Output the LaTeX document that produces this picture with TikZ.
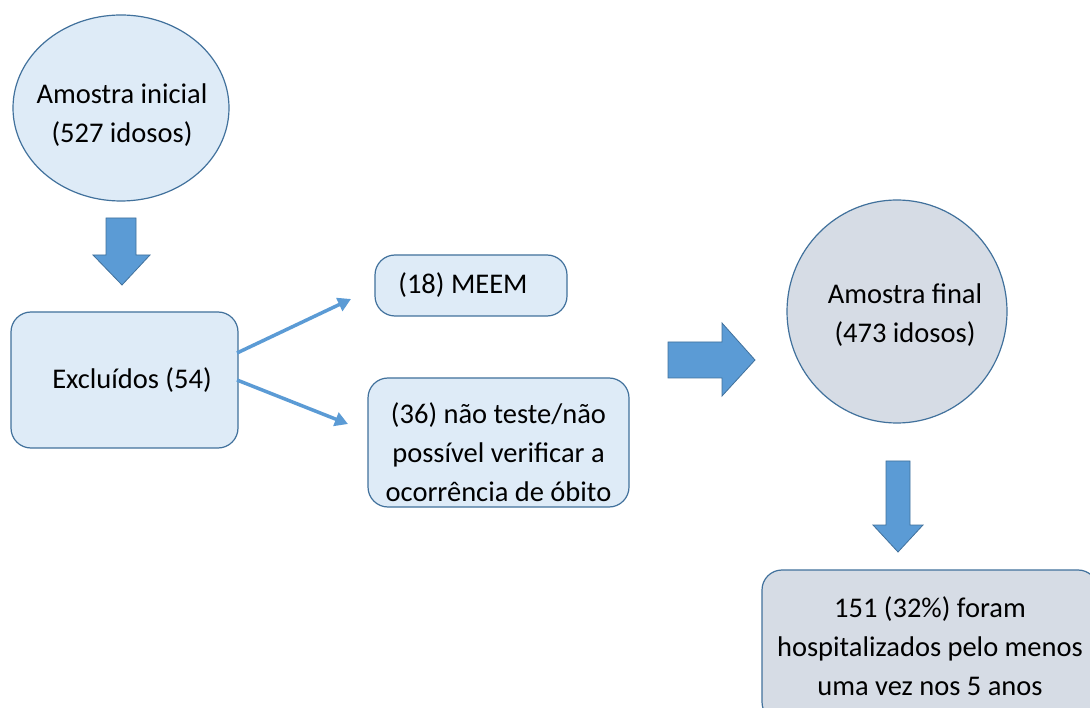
\documentclass[tikz,border=0pt]{standalone}
\usepackage{fontspec}
\setmainfont{Carlito}
\usetikzlibrary{shapes.geometric,arrows.meta}
\definecolor{boxfill}{HTML}{DEEBF7}
\definecolor{grayfill}{HTML}{D6DCE5}
\definecolor{edgeblue}{HTML}{41719C}
\definecolor{arrowblue}{HTML}{5B9BD5}
\begin{document}
\begin{tikzpicture}[x=1pt,y=-1pt,
  txt/.style={font=\fontsize{28.5}{39}\selectfont, text=black, align=center},
  blob/.style={txt, draw=edgeblue, line width=1.2pt, fill=boxfill, inner sep=0pt},
  rbox/.style={blob, rectangle, rounded corners=20pt},
  blockarrow/.style={fill=arrowblue, draw=edgeblue, line width=0.8pt},
  thinarrow/.style={draw=arrowblue, line width=3.5pt, -{Triangle[length=13pt,width=14pt]}}]
\useasboundingbox (0,0) rectangle (1090,708);
\clip (0,0) rectangle (1090,708);
\fill[white] (0,0) rectangle (1090,708);

% nodes
\node[blob, ellipse, minimum width=216pt, minimum height=186pt] (ini) at (121,108) {};
\node[txt] (initxt) at (122,115) {Amostra inicial\\(527 idosos)};
\node[rbox, minimum width=227pt, minimum height=136pt] (exc) at (124.5,380) {\hspace*{15pt}Excluídos (54)};
\node[rbox, minimum width=192pt, minimum height=61pt] (meem) at (471,285.5) {(18) MEEM\hspace*{16pt}};
\node[rbox, minimum width=261pt, minimum height=129pt, text depth=0pt] (nt) at (498.5,442.5) {};
\node[txt] (nttxt) at (498.5,452) {(36) não teste/não\\possível verificar a\\ocorrência de óbito};
\node[blob, ellipse, fill=grayfill, minimum width=220pt, minimum height=223pt] (fin) at (897,311.5) {};
\node[txt] (fintxt) at (905,315) {Amostra final\\(473 idosos)};
\node[rbox, fill=grayfill, minimum width=336pt, minimum height=152pt] (hosp) at (930,646) {151 (32\%) foram\\hospitalizados pelo menos\\uma vez nos 5 anos};

% block arrows
\draw[blockarrow] (106,218) -- (136,218) -- (136,255) -- (150,255) -- (122,285) -- (93,255) -- (106,255) -- cycle;
\draw[blockarrow] (668,342) -- (722,342) -- (722,323) -- (755,360) -- (722,396) -- (722,378) -- (668,378) -- cycle;
\draw[blockarrow] (886,461) -- (910,461) -- (910,525) -- (923,525) -- (898,552) -- (873,525) -- (886,525) -- cycle;

% thin arrows
\coordinate (s1) at (237,353);
\coordinate (e1) at (351,299);
\coordinate (s2) at (237,380);
\coordinate (e2) at (348,424);
\draw[thinarrow] (s1) -- (e1);
\draw[thinarrow] (s2) -- (e2);
\end{tikzpicture}
\end{document}
